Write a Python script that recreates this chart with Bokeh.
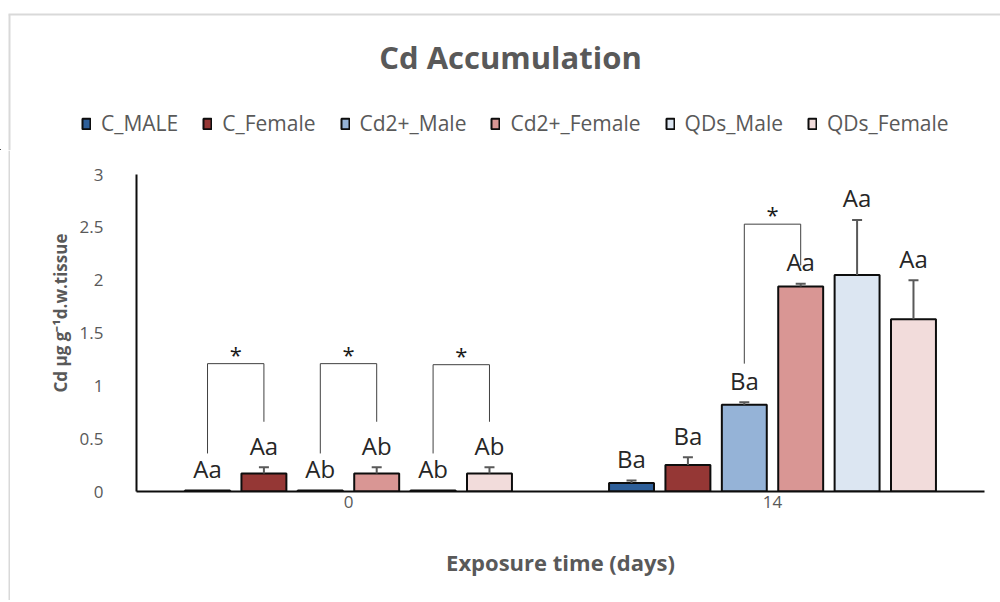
from bokeh.plotting import figure
from bokeh.layouts import column, row
from bokeh.models import (ColumnDataSource, FactorRange, Range1d, FixedTicker,
                          Legend, LegendItem, Title, Label)
from bokeh.transform import dodge
from bokeh.core.properties import value
from bokeh.embed import file_html
from bokeh.resources import INLINE

# ---------------- data ----------------
days = ["0", "14"]
series = ["C_MALE", "C_Female", "Cd2+_Male", "Cd2+_Female", "QDs_Male", "QDs_Female"]
colors = ["#2e5f99", "#953735", "#95b3d7", "#d99694", "#dce6f2", "#f2dcdb"]

c_male = [0.01, 0.08]
c_female = [0.17, 0.25]
cd_male = [0.01, 0.82]
cd_female = [0.17, 1.94]
qds_male = [0.01, 2.05]
qds_female = [0.17, 1.63]

c_male_err = [0.0, 0.025]
c_female_err = [0.06, 0.075]
cd_male_err = [0.0, 0.025]
cd_female_err = [0.06, 0.025]
qds_male_err = [0.0, 0.52]
qds_female_err = [0.06, 0.37]

c_male_lab = ["Aa", "Ba"]
c_female_lab = ["Aa", "Ba"]
cd_male_lab = ["Ab", "Ba"]
cd_female_lab = ["Ab", "Aa"]
qds_male_lab = ["Ab", "Aa"]
qds_female_lab = ["Ab", "Aa"]

means = [c_male, c_female, cd_male, cd_female, qds_male, qds_female]
errs = [c_male_err, c_female_err, cd_male_err, cd_female_err, qds_male_err, qds_female_err]
labels = [c_male_lab, c_female_lab, cd_male_lab, cd_female_lab, qds_male_lab, qds_female_lab]

# significance brackets
bracket_day = ["0", "0", "0", "14"]
bracket_left = ["C_MALE", "Cd2+_Male", "QDs_Male", "Cd2+_Male"]
bracket_right = ["C_Female", "Cd2+_Female", "QDs_Female", "Cd2+_Female"]
bracket_top = [1.21, 1.21, 1.20, 2.53]
bracket_left_end = [0.36, 0.36, 0.36, 1.21]
bracket_right_end = [0.66, 0.66, 0.66, 2.14]

title_text = "Cd Accumulation"
x_title = "Exposure time (days)"
y_title = "Cd \u00b5g g\u207b\u00b9d.w.tissue"
y_ticks = [0, 0.5, 1, 1.5, 2, 2.5, 3]
y_tick_labels = ["0", "0.5", "1", "1.5", "2", "2.5", "3"]

# ---------------- style ----------------
FONT = "Open Sans"
GRAY = "#595959"
AXIS = "#0d0d0d"
BORDER = "#d9d9d9"
step = 0.133
bw = 0.106
HEAD_H = 150
STRIP_W = 10
MAIN_H = 600 - HEAD_H

# ---------------- header (title + legend + chart-area border) ----------------
head = figure(width=1000, height=HEAD_H, x_range=Range1d(0, 1000), y_range=Range1d(0, HEAD_H),
              x_axis_type=None, y_axis_type=None, output_backend="svg",
              toolbar_location=None, min_border=0)
head.frame_align = False
head.outline_line_color = None
head.border_fill_color = "white"
head.segment(x0=[8], y0=[HEAD_H - 14], x1=[1000], y1=[HEAD_H - 14],
             line_color=BORDER, line_width=2)
head.segment(x0=[9], y0=[0], x1=[9], y1=[HEAD_H - 14],
             line_color=BORDER, line_width=2)

items = []
for i, name in enumerate(series):
    # legend proxies: one bar per series, kept outside the visible range
    r = head.vbar(x=[-5000], top=[-500], bottom=[-600], width=1, fill_color=colors[i],
                  line_color=AXIS, line_width=2)
    items.append(LegendItem(label=name, renderers=[r]))

legend = Legend(items=items, orientation="horizontal", location=(81, 13),
                glyph_width=10, glyph_height=13, label_standoff=10, spacing=24,
                padding=0, margin=0, border_line_color=None,
                background_fill_alpha=0, label_text_font=FONT,
                label_text_font_size="21px", label_text_color=GRAY)
head.add_layout(legend)

head.add_layout(Label(x=510, y=HEAD_H - 69 + 13, text=title_text,
                      text_align="center", text_baseline="alphabetic", text_font=FONT,
                      text_font_size="31px", text_font_style="bold", text_color=GRAY))

# ---------------- left border strip ----------------
strip = figure(width=STRIP_W, height=MAIN_H, x_range=Range1d(0, STRIP_W),
               y_range=Range1d(0, MAIN_H), x_axis_type=None, y_axis_type=None,
               output_backend="svg", toolbar_location=None, min_border=0)
strip.frame_align = False
strip.outline_line_color = None
strip.border_fill_color = "white"
strip.segment(x0=[9], y0=[0], x1=[9], y1=[MAIN_H], line_color=BORDER, line_width=2)

# ---------------- main chart ----------------
p = figure(width=1000 - STRIP_W, height=MAIN_H,
           x_range=FactorRange(*days, range_padding=0, factor_padding=0),
           y_range=Range1d(0, 3),
           output_backend="svg", toolbar_location=None,
           min_border_left=136 - STRIP_W, min_border_right=16,
           min_border_top=174 - HEAD_H, min_border_bottom=109)
p.outline_line_color = None
p.xgrid.visible = False
p.ygrid.visible = False
p.background_fill_color = "white"
p.border_fill_color = "white"

for ax in (p.xaxis, p.yaxis):
    ax.axis_line_color = AXIS
    ax.axis_line_width = 2
    ax.major_tick_line_color = None
    ax.minor_tick_line_color = None
    ax.major_label_text_font = FONT
    ax.major_label_text_font_size = "17px"
    ax.major_label_text_color = GRAY

p.yaxis.ticker = FixedTicker(ticks=y_ticks)
p.yaxis.major_label_overrides = {t: l for t, l in zip(y_ticks, y_tick_labels)}
p.yaxis.major_label_standoff = 27
p.xaxis.major_label_standoff = -2

p.xaxis.axis_label = x_title
p.xaxis.axis_label_standoff = 36
p.xaxis.axis_label_text_font = FONT
p.xaxis.axis_label_text_font_size = "22px"
p.xaxis.axis_label_text_font_style = "bold"
p.xaxis.axis_label_text_color = GRAY

for i, name in enumerate(series):
    off = (i - 2.5) * step
    xd = dodge("day", off, range=p.x_range)
    top = [m + e for m, e in zip(means[i], errs[i])]
    src = ColumnDataSource(dict(day=days, val=means[i], err=errs[i], top=top, lab=labels[i]))
    p.vbar(x=xd, top="val", width=bw, source=src, fill_color=colors[i],
           line_color=AXIS, line_width=2)
    idx = [k for k in range(len(days)) if errs[i][k] > 0]
    if idx:
        esrc = ColumnDataSource(dict(day=[days[k] for k in idx],
                                     val=[means[i][k] for k in idx],
                                     top=[top[k] for k in idx]))
        p.segment(x0=xd, y0="val", x1=xd, y1="top", source=esrc,
                  line_color=GRAY, line_width=2)
        p.scatter(x=xd, y="top", marker="dash", size=10, source=esrc,
                  line_color=GRAY, line_width=2)
    p.text(x=xd, y="top", text="lab", source=src, text_align="center",
           text_baseline="alphabetic", y_offset=-22, text_font=value(FONT),
           text_font_size="24px", text_color="#262626")

for b in range(len(bracket_day)):
    il = series.index(bracket_left[b])
    ir = series.index(bracket_right[b])
    offl = (il - 2.5) * step
    offr = (ir - 2.5) * step
    xl = dodge("day", offl, range=p.x_range)
    xr = dodge("day", offr, range=p.x_range)
    xm = dodge("day", (offl + offr) / 2, range=p.x_range)
    bs = ColumnDataSource(dict(day=[bracket_day[b]], top=[bracket_top[b]],
                               yl=[bracket_left_end[b]], yr=[bracket_right_end[b]]))
    p.segment(x0=xl, y0="yl", x1=xl, y1="top", source=bs, line_color="#404040", line_width=1)
    p.segment(x0=xl, y0="top", x1=xr, y1="top", source=bs, line_color="#404040", line_width=1)
    p.segment(x0=xr, y0="top", x1=xr, y1="yr", source=bs, line_color="#404040", line_width=1)
    p.text(x=xm, y="top", text=value("*"), source=bs, text_align="center",
           text_baseline="alphabetic", y_offset=-10, text_font=value(FONT),
           text_font_size="22px", text_color="#1a1a1a")

p.add_layout(Title(text=y_title, align="left", offset=99, standoff=10,
                   text_font=FONT, text_font_size="17px", text_font_style="bold",
                   text_color=GRAY), "left")

layout = column(head, row(strip, p, spacing=0), spacing=0)
open("out.html", "w").write(file_html(layout, INLINE))
